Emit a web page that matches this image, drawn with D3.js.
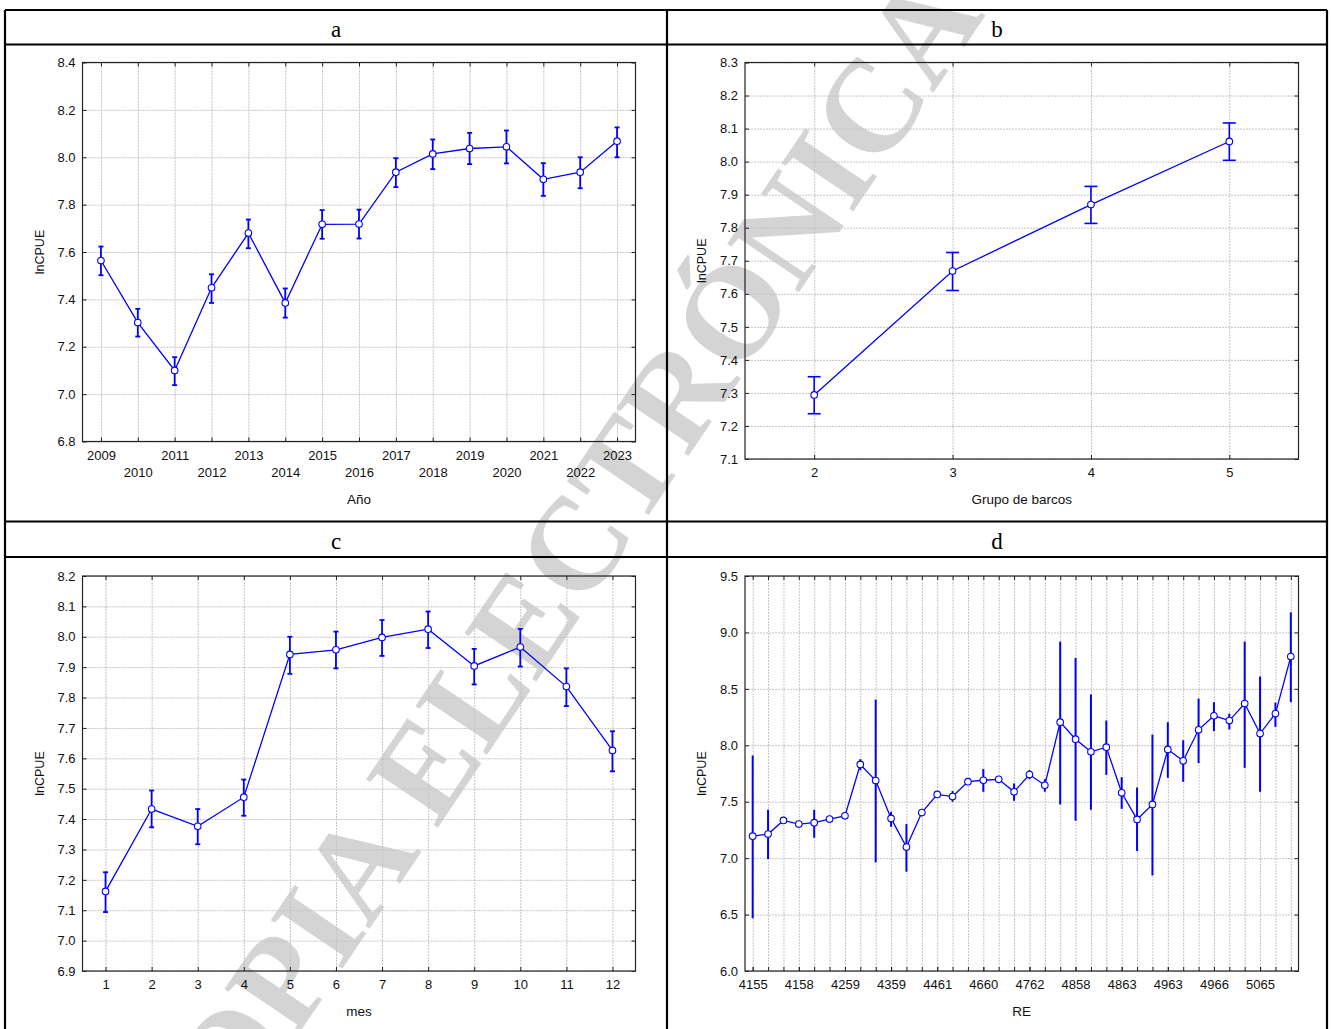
<!DOCTYPE html>
<html>
<head>
<meta charset="utf-8">
<script src="https://cdn.jsdelivr.net/npm/d3@7"></script>
<style>
  html, body { margin: 0; padding: 0; background: #ffffff; }
  svg { display: block; }
  text { font-family: "Liberation Sans", Arial, sans-serif; }
</style>
</head>
<body>
<svg id="chart" width="1331" height="1029"></svg>
<script>
// ---------- Panel a : Año ----------
const yearCats = ["2009","2010","2011","2012","2013","2014","2015","2016","2017","2018","2019","2020","2021","2022","2023"];
const yearMean = [7.564, 7.302, 7.100, 7.449, 7.680, 7.385, 7.717, 7.718, 7.937, 8.014, 8.037, 8.044, 7.907, 7.937, 8.068];
const yearLow  = [7.502, 7.243, 7.038, 7.385, 7.616, 7.323, 7.656, 7.657, 7.874, 7.950, 7.971, 7.974, 7.837, 7.869, 8.000];
const yearHigh = [7.623, 7.360, 7.156, 7.506, 7.737, 7.446, 7.777, 7.779, 7.996, 8.075, 8.103, 8.113, 7.975, 8.000, 8.126];
const yearTicks = [6.8, 7.0, 7.2, 7.4, 7.6, 7.8, 8.0, 8.2, 8.4];

// ---------- Panel b : Grupo de barcos ----------
const groupCats = ["2","3","4","5"];
const groupMean = [7.294, 7.669, 7.870, 8.061];
const groupLow  = [7.237, 7.610, 7.813, 8.004];
const groupHigh = [7.349, 7.725, 7.925, 8.117];
const groupTicks = [7.1, 7.2, 7.3, 7.4, 7.5, 7.6, 7.7, 7.8, 7.9, 8.0, 8.1, 8.2, 8.3];

// ---------- Panel c : mes ----------
const monthCats = ["1","2","3","4","5","6","7","8","9","10","11","12"];
const monthMean = [7.162, 7.433, 7.376, 7.472, 7.942, 7.957, 7.998, 8.025, 7.904, 7.966, 7.836, 7.626];
const monthLow  = [7.094, 7.373, 7.317, 7.411, 7.878, 7.896, 7.937, 7.963, 7.843, 7.902, 7.772, 7.557];
const monthHigh = [7.225, 7.494, 7.433, 7.530, 8.000, 8.017, 8.055, 8.083, 7.960, 8.026, 7.896, 7.689];
const monthTicks = [6.9, 7.0, 7.1, 7.2, 7.3, 7.4, 7.5, 7.6, 7.7, 7.8, 7.9, 8.0, 8.1, 8.2];

// ---------- Panel d : RE ----------
const reCats = ["4155","4156","4157","4158","4159","4258","4259","4260","4358","4359","4360","4460",
                "4461","4462","4659","4660","4661","4761","4762","4763","4857","4858","4859","4862",
                "4863","4864","4962","4963","4964","4965","4966","4967","5064","5065","5066","5067"];
const reLabels = ["4155","4158","4259","4359","4461","4660","4762","4858","4863","4963","4966","5065"];
const reMean = [7.195, 7.213, 7.334, 7.302, 7.314, 7.346, 7.375, 7.830, 7.688, 7.352, 7.098, 7.404,
                7.565, 7.546, 7.678, 7.690, 7.698, 7.588, 7.741, 7.646, 8.205, 8.054, 7.942, 7.983,
                7.579, 7.343, 7.476, 7.963, 7.862, 8.137, 8.261, 8.219, 8.370, 8.104, 8.281, 8.786];
const reLow  = [6.467, 6.992, 7.315, 7.285, 7.181, 7.315, 7.360, 7.780, 6.962, 7.277, 6.880, 7.390,
                7.550, 7.500, 7.660, 7.588, 7.680, 7.508, 7.700, 7.588, 7.476, 7.331, 7.429, 7.738,
                7.437, 7.063, 6.847, 7.712, 7.676, 7.842, 8.125, 8.140, 7.800, 7.588, 8.163, 8.382];
const reHigh = [7.910, 7.429, 7.350, 7.320, 7.429, 7.375, 7.390, 7.877, 8.405, 7.410, 7.302, 7.420,
                7.580, 7.595, 7.695, 7.789, 7.715, 7.662, 7.780, 7.700, 8.919, 8.774, 8.450, 8.219,
                7.718, 7.626, 8.095, 8.205, 8.045, 8.414, 8.382, 8.281, 8.919, 8.609, 8.379, 9.178];
const reTicks = [6.0, 6.5, 7.0, 7.5, 8.0, 8.5, 9.0, 9.5];

const panelTitles = ["a", "b", "c", "d"];
const yTitle = "lnCPUE";
const xTitles = ["Año", "Grupo de barcos", "mes", "RE"];
const watermark = "COPIA ELECTRÓNICA";

const svg = d3.select("#chart");
const BLUE = "#0000ff";

// ---- watermark (behind everything) ----
svg.append("text")
  .attr("transform", "translate(560,592) rotate(-56)")
  .attr("text-anchor", "middle")
  .attr("dominant-baseline", "middle")
  .style("font-family", "'Liberation Serif', 'Times New Roman', serif")
  .style("font-weight", "bold")
  .style("font-size", "132px")
  .attr("fill", "#d4d4d4")
  .text(watermark);

// ---- table frame ----
const T = { left: 5, mid: 667, right: 1327, top: 10, h1: 44.5, r1: 521.5, h2: 557 };
const frame = svg.append("g").attr("stroke", "#000").attr("stroke-width", 2.2).attr("fill", "none");
[[T.left, T.top, T.right, T.top], [T.left, T.h1, T.right, T.h1], [T.left, T.r1, T.right, T.r1],
 [T.left, T.h2, T.right, T.h2], [T.left, T.top, T.left, 1035], [T.mid, T.top, T.mid, 1035],
 [T.right, T.top, T.right, 1035]].forEach(l => {
  frame.append("line").attr("x1", l[0]).attr("y1", l[1]).attr("x2", l[2]).attr("y2", l[3]);
});

// ---- panel titles ----
const titlePos = [[336, 37], [997, 37], [336, 549], [997, 549]];
panelTitles.forEach((t, i) => {
  svg.append("text")
    .attr("x", titlePos[i][0]).attr("y", titlePos[i][1])
    .attr("text-anchor", "middle")
    .style("font-family", "'Liberation Serif', 'Times New Roman', serif")
    .style("font-size", "23px")
    .attr("fill", "#000")
    .text(t);
});

function drawPanel(o) {
  const g = svg.append("g");
  const x = d3.scalePoint().domain(o.cats).range([o.x0, o.x1]).padding(0.5);
  const y = d3.scaleLinear().domain([o.ticks[0], o.ticks[o.ticks.length - 1]]).range([o.y1, o.y0]);
  const W = o.x1 - o.x0, H = o.y1 - o.y0;

  // grid
  const grid = g.append("g");
  grid.append("g").attr("transform", `translate(${o.x0},0)`)
    .call(d3.axisLeft(y).tickValues(o.ticks).tickSize(-W).tickFormat(""))
    .call(s => s.select(".domain").remove());
  grid.append("g").attr("transform", `translate(0,${o.y1})`)
    .call(d3.axisBottom(x).tickSizeInner(-H).tickFormat(""))
    .call(s => s.select(".domain").remove());
  grid.selectAll(".tick line").attr("stroke", "#c4c4c4").attr("stroke-width", 1).attr("stroke-dasharray", "2,1");

  // frame
  g.append("rect").attr("x", o.x0).attr("y", o.y0).attr("width", W).attr("height", H)
    .attr("fill", "none").attr("stroke", "#222").attr("stroke-width", 1.2);

  // axes with inward ticks
  const ax = g.append("g");
  const left = ax.append("g").attr("transform", `translate(${o.x0},0)`)
    .call(d3.axisLeft(y).tickValues(o.ticks).tickSize(-4).tickPadding(7).tickFormat(d3.format(".1f")));
  const right = ax.append("g").attr("transform", `translate(${o.x1},0)`)
    .call(d3.axisRight(y).tickValues(o.ticks).tickSize(-4).tickFormat(""));
  const bottom = ax.append("g").attr("transform", `translate(0,${o.y1})`)
    .call(d3.axisBottom(x).tickValues(o.tickCats || o.cats).tickSize(-4).tickPadding(9));
  const top = ax.append("g").attr("transform", `translate(0,${o.y0})`)
    .call(d3.axisTop(x).tickValues(o.cats).tickSize(-4).tickFormat(""));
  [left, right, bottom, top].forEach(a => {
    a.select(".domain").remove();
    a.selectAll(".tick line").attr("stroke", "#222");
    a.selectAll("text").attr("fill", "#111").style("font-family", "'Liberation Sans', Arial, sans-serif").style("font-size", "13px");
  });
  if (o.tickCats) {
    ax.append("g").attr("transform", `translate(0,${o.y1})`)
      .call(d3.axisBottom(x).tickSize(-4).tickFormat(""))
      .call(s => { s.select(".domain").remove(); s.selectAll(".tick line").attr("stroke", "#222"); });
  }
  if (o.stagger) {
    bottom.selectAll(".tick text").attr("dy", (d, i) => i % 2 ? "2.03em" : "0.71em");
  }

  // axis titles
  g.append("text").attr("x", (o.x0 + o.x1) / 2).attr("y", o.xTitleY)
    .attr("text-anchor", "middle").attr("dominant-baseline", "middle")
    .style("font-size", "13.5px").attr("fill", "#111").text(o.xTitle);
  g.append("text").attr("transform", `translate(${o.x0 - 42},${(o.y0 + o.y1) / 2}) rotate(-90)`)
    .attr("text-anchor", "middle").attr("dominant-baseline", "middle")
    .style("font-size", "12.5px").attr("fill", "#111").text(yTitle);

  // data
  const pts = o.cats.map((c, i) => ({ c, m: o.mean[i], lo: o.low[i], hi: o.high[i] }));
  const eb = g.append("g").attr("stroke", BLUE).attr("stroke-width", o.ebWidth);
  eb.selectAll("line.v").data(pts).join("line").attr("class", "v")
    .attr("x1", d => x(d.c)).attr("x2", d => x(d.c))
    .attr("y1", d => y(d.lo)).attr("y2", d => y(d.hi));
  if (o.cap > 0) {
    ["lo", "hi"].forEach(k => {
      eb.selectAll("line.c" + k).data(pts).join("line").attr("class", "c" + k)
        .attr("x1", d => x(d.c) - o.cap / 2).attr("x2", d => x(d.c) + o.cap / 2)
        .attr("y1", d => y(d[k])).attr("y2", d => y(d[k]));
    });
  }
  g.append("path").datum(pts)
    .attr("fill", "none").attr("stroke", BLUE).attr("stroke-width", 1.3)
    .attr("d", d3.line().x(d => x(d.c)).y(d => y(d.m)));
  g.selectAll("circle.pt").data(pts).join("circle").attr("class", "pt")
    .attr("cx", d => x(d.c)).attr("cy", d => y(d.m)).attr("r", 3.3)
    .attr("fill", "#fff").attr("stroke", BLUE).attr("stroke-width", 1.1);
}

drawPanel({ x0: 82.5, x1: 635.5, y0: 62.5, y1: 441.5, cats: yearCats, mean: yearMean, low: yearLow, high: yearHigh,
  ticks: yearTicks, stagger: true, cap: 5, ebWidth: 1.8, xTitle: xTitles[0], xTitleY: 500 });
drawPanel({ x0: 745, x1: 1298.5, y0: 62.5, y1: 459, cats: groupCats, mean: groupMean, low: groupLow, high: groupHigh,
  ticks: groupTicks, cap: 13, ebWidth: 1.6, xTitle: xTitles[1], xTitleY: 500 });
drawPanel({ x0: 82.5, x1: 635.5, y0: 576, y1: 971, cats: monthCats, mean: monthMean, low: monthLow, high: monthHigh,
  ticks: monthTicks, cap: 5, ebWidth: 1.8, xTitle: xTitles[2], xTitleY: 1012 });
drawPanel({ x0: 745, x1: 1298.5, y0: 576, y1: 971, cats: reCats, tickCats: reLabels, mean: reMean, low: reLow, high: reHigh,
  ticks: reTicks, cap: 0, ebWidth: 2, xTitle: xTitles[3], xTitleY: 1012 });
</script>
</body>
</html>
